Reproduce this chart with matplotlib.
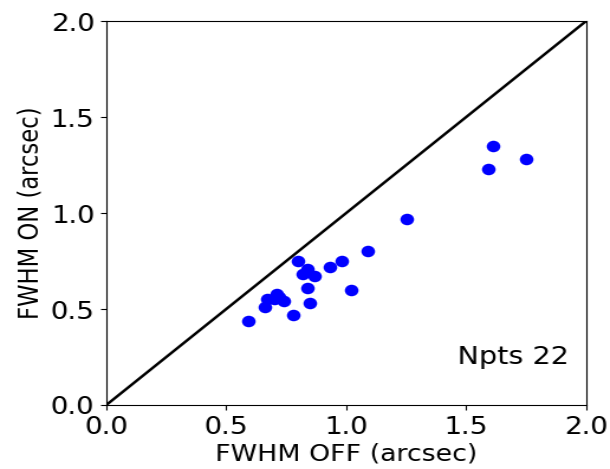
import matplotlib
matplotlib.use("Agg")
import matplotlib.pyplot as plt
import numpy as np

# FWHM measured with the correction off vs on (arcsec)
fwhm_off = [0.59, 0.66, 0.67, 0.71, 0.74, 0.70, 0.72, 0.78, 0.80, 0.84, 0.82, 0.87,
            0.84, 0.85, 0.93, 0.98, 1.02, 1.09, 1.25, 1.59, 1.61, 1.75]
fwhm_on = [0.44, 0.51, 0.55, 0.58, 0.54, 0.55, 0.56, 0.47, 0.75, 0.71, 0.68, 0.67,
           0.61, 0.53, 0.72, 0.75, 0.60, 0.80, 0.97, 1.23, 1.35, 1.28]
lims = [0.0, 2.0]
ticks = [0.0, 0.5, 1.0, 1.5, 2.0]

# the reference image is stretched horizontally, so draw narrower and widen after
out_w, out_h = 610, 469
stretch = 1.18

fig = plt.figure(figsize=(out_w / stretch / 100, out_h / 100), dpi=100)
ax = fig.add_axes([0.174, 0.1365, 0.785, 0.8185])

ax.plot(lims, lims, color="black", linewidth=1.8)
ax.plot(fwhm_off, fwhm_on, "o", color="blue", markersize=8.3, markeredgewidth=0)

ax.set_xlim(lims)
ax.set_ylim(lims)
ax.set_xticks(ticks)
ax.set_yticks(ticks)
ax.tick_params(labelsize=17)
ax.set_xlabel("FWHM OFF (arcsec)", fontsize=16.3, labelpad=3)
ax.set_ylabel("FWHM ON (arcsec)", fontsize=16.3, labelpad=4)
ax.text(1.93, 0.25, f"Npts {len(fwhm_off)}", ha="right", va="center", fontsize=17.5)

fig.canvas.draw()
img = np.asarray(fig.canvas.buffer_rgba()).astype(float) / 255.0
src_w = img.shape[1]
xs = (np.arange(out_w) + 0.5) * src_w / out_w - 0.5
x0 = np.clip(np.floor(xs).astype(int), 0, src_w - 1)
x1 = np.clip(x0 + 1, 0, src_w - 1)
t = (xs - np.floor(xs))[None, :, None]
wide = img[:, x0] * (1 - t) + img[:, x1] * t
plt.imsave("out.png", np.clip(wide[:out_h], 0, 1))
